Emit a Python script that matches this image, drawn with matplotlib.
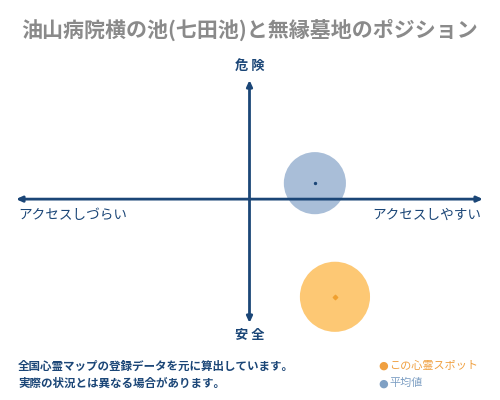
import matplotlib
matplotlib.use("Agg")
import matplotlib.pyplot as plt

plt.rcParams['font.family'] = ['Noto Sans CJK JP', 'DejaVu Sans']

title = "油山病院横の池(七田池)と無縁墓地のポジション"
x_labels = ["アクセスしづらい", "アクセスしやすい"]
y_labels = ["安 全", "危 険"]
series_names = ["この心霊スポット", "平均値"]
spot_x = [1.83]
spot_y = [-4.1]
avg_x = [1.40]
avg_y = [0.67]
notes = ["全国心霊マップの登録データを元に算出しています。",
         "実際の状況とは異なる場合があります。"]

navy = "#1b4677"
blue = "#a9bed8"
orange = "#fdc874"

fig = plt.figure(figsize=(5, 4), dpi=100)
fig.patch.set_facecolor("white")
ax = fig.add_axes([0.032, 0.1925, 0.934, 0.6075])
ax.set_xlim(-5, 5)
ax.set_ylim(-5.2, 5)
ax.axis("off")

# circles
ax.scatter(avg_x, avg_y, s=2000, color=blue, edgecolors="none", zorder=2, clip_on=False)
ax.scatter(avg_x, avg_y, s=2, color=navy, zorder=4, clip_on=False)
ax.scatter(spot_x, spot_y, s=2550, color=orange, edgecolors="none", zorder=2, clip_on=False)
ax.scatter(spot_x, spot_y, s=5, color="#f0a030", marker="D", zorder=4, clip_on=False)

# axes arrows
arrow = dict(arrowstyle="-|>,head_length=0.35,head_width=0.16", color=navy, lw=2, shrinkA=0, shrinkB=0)
for end in [(5, 0), (-5, 0), (0, 5), (0, -5.2)]:
    ax.annotate("", xy=end, xytext=(0, 0), arrowprops=arrow, zorder=3, annotation_clip=False)

# titles and labels
fig.text(0.5, 0.925, title, ha="center", va="center", fontsize=15.1, color="#8a8a8a", fontweight="bold")
fig.text(0.5, 0.835, y_labels[1], ha="center", va="center", fontsize=9.5, color=navy, fontweight="bold")
fig.text(0.5, 0.163, y_labels[0], ha="center", va="center", fontsize=9.5, color=navy, fontweight="bold")
fig.text(0.036, 0.462, x_labels[0], ha="left", va="center", fontsize=9.8, color=navy)
fig.text(0.962, 0.462, x_labels[1], ha="right", va="center", fontsize=9.8, color=navy)

fig.text(0.036, 0.085, notes[0], ha="left", va="center", fontsize=8.3, color=navy, fontweight="bold")
fig.text(0.036, 0.042, notes[1], ha="left", va="center", fontsize=8.3, color=navy, fontweight="bold")

# legend
fig.text(0.766, 0.085, "●", ha="center", va="center", fontsize=8, color="#f0a040", family=['DejaVu Sans'])
fig.text(0.778, 0.085, series_names[0], ha="left", va="center", fontsize=8, color="#f0a040")
fig.text(0.766, 0.042, "●", ha="center", va="center", fontsize=8, color="#7fa0c4", family=['DejaVu Sans'])
fig.text(0.778, 0.042, series_names[1], ha="left", va="center", fontsize=8, color="#7fa0c4")

fig.savefig("out.png", dpi=100, facecolor="white")
